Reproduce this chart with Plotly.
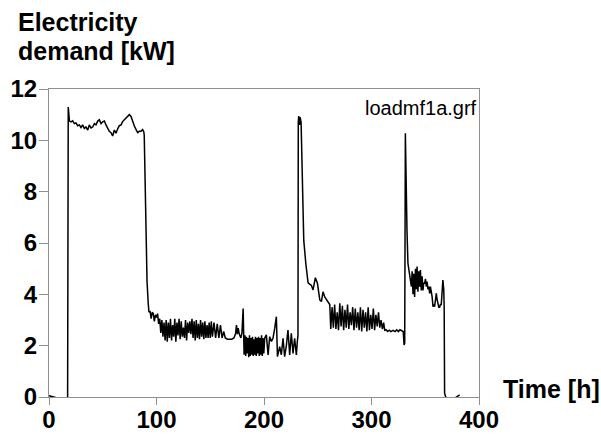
import plotly.graph_objects as go

time_h = [
    0, 3, 6, 9, 12, 15, 16.5, 17.3, 17.9,
    19.0, 20.5, 22.0, 23.6, 25.1, 26.7, 28.2, 29.8, 31.3, 32.9, 34.4, 36.0, 37.5, 39.1, 40.6,
    42.2, 43.7, 45.3, 46.8, 48.4, 49.9, 51.5, 53.0, 54.6, 56.1, 57.7, 59.2, 60.8, 62.3, 63.9,
    65.4, 67.0, 68.5, 70.1, 71.6, 73.2, 74.7, 76.3, 77.8, 79.4, 80.9, 82.5, 84.0, 85.6, 87.1,
    88.2, 88.6, 90.1, 91.2, 92.3,
    93.0, 94.0, 95.0, 96.0, 97.0, 98.0, 99.0, 100.0, 101.0, 102.0, 103.0, 104.0, 105.0, 106.0,
    107.0, 108.0, 109.0, 110.0, 111.0, 112.0, 113.0, 114.0, 115.0, 116.0, 117.0, 118.0, 119.0,
    120.0, 121.0, 122.0, 123.0, 124.0, 125.0, 126.0, 127.0, 128.0, 129.0, 130.0, 131.0, 132.0,
    133.0, 134.0, 135.0, 136.0, 137.0, 138.0, 139.0, 140.0, 141.0, 142.0, 143.0, 144.0, 145.0,
    146.0, 147.0, 148.0, 149.0, 150.0, 151.0, 152.0, 153.5, 155.0, 156.5, 158.0, 159.5, 161.0,
    162.5, 164.0, 166.0, 168.0, 170.0, 172.0, 173.5, 174.4, 175.2, 176.0, 177.0, 178.5, 179.5,
    180.6, 181.5, 182.3, 183.0, 183.7, 184.4, 185.1, 185.8, 186.5, 187.2, 187.9, 188.6, 189.3,
    190.0, 190.7, 191.4, 192.1, 192.8, 193.5, 194.2, 194.9, 195.6, 196.3, 197.0, 197.7, 198.4,
    199.1, 199.8, 200.7, 202.2, 203.8, 205.3, 206.9, 208.4, 210.0, 211.5, 212.5, 214.6, 216.1,
    217.7, 219.2, 220.8, 222.3, 223.9, 225.4, 227.0, 228.5, 230.1, 231.0, 231.6,
    231.9, 232.3, 233.0, 233.6, 234.5, 235.7, 237.0, 238.9, 239.5, 241.0, 242.5, 244.1, 245.6,
    247.8, 249.7, 251.9, 253.4, 254.9, 256.5, 258.0, 259.6, 261.2,
    262.1, 263.3, 264.5, 265.7, 266.9, 268.1, 269.3, 270.5, 271.7, 272.9, 274.1, 275.3, 276.5,
    277.7, 278.9, 280.1, 281.3, 282.5, 283.7, 284.9, 286.1, 287.3, 288.5, 289.7, 290.9, 292.1,
    293.3, 294.5, 295.7, 296.9, 298.1, 299.3, 300.5, 301.7, 302.9, 304.1, 305.3, 306.5, 307.7,
    308.9, 310.1, 311.3, 312.3, 313.5, 315.0, 316.5, 318.0, 320.0, 322.0, 323.5, 325.0, 326.5,
    328.0, 329.5, 330.3, 330.9, 331.5, 332.0, 333.0, 333.9, 335.5, 337.1,
    337.8, 338.6, 339.3, 340.1, 340.9, 341.7, 342.4, 343.2, 344.0, 344.8, 345.5, 346.3, 347.1,
    347.9, 348.6, 349.4, 350.2, 351.0, 351.7, 352.5, 353.3, 354.1, 354.8, 355.6, 356.4, 357.2,
    358.0, 358.7, 359.5, 360.3, 361.0, 361.8, 362.6, 363.4, 364.1, 364.9, 365.7, 366.4, 367.2,
    367.6, 368.0, 369.0, 370.5, 372.7, 375.0, 377.3, 379.5, 382.0,
]

demand_kw = [
    0.05, 0.03, -0.02, -0.06, -0.07, -0.04, -0.1, -0.3, 11.3,
    10.75, 10.72, 10.76, 10.65, 10.68, 10.57, 10.6, 10.5, 10.6, 10.46, 10.52, 10.4, 10.6, 10.48, 10.52,
    10.65, 10.6, 10.75, 10.8, 10.65, 10.72, 10.75, 10.6, 10.46, 10.35, 10.3, 10.17, 10.4, 10.28, 10.45,
    10.57, 10.6, 10.73, 10.8, 10.86, 10.96, 11.0, 10.93, 10.73, 10.56, 10.43, 10.3, 10.35, 10.35, 10.42,
    10.33, 10.2, 6.8, 4.5, 3.65,
    3.3, 3.35, 3.05, 3.3, 3.25, 2.95, 3.2, 3.1, 3.25, 2.85, 3.05, 2.5, 3.0, 2.35,
    2.9, 2.2, 3.0, 2.15, 2.9, 2.3, 3.05, 2.2, 2.8, 2.35, 3.05, 2.15, 2.9,
    2.4, 3.05, 2.25, 2.95, 2.35, 2.7, 2.3, 3.0, 2.2, 2.9, 2.5, 2.95, 2.45,
    3.05, 2.3, 2.95, 2.2, 3.0, 2.3, 2.85, 2.25, 3.0, 2.35, 2.9, 2.25, 2.95,
    2.3, 2.8, 2.3, 2.9, 2.3, 2.95, 2.35, 2.9, 2.3, 2.85, 2.3, 2.8, 2.3,
    2.55, 2.3, 2.25, 2.25, 2.25, 2.3, 2.45, 2.8, 2.45, 2.68, 2.45, 2.3, 2.5,
    3.45, 1.65, 2.4, 1.6, 2.35, 1.7, 2.3, 1.55, 2.4, 1.6, 2.3, 1.65, 2.35,
    1.6, 2.25, 1.65, 2.35, 1.6, 2.3, 1.7, 2.35, 1.6, 2.3, 1.65, 2.4, 1.6,
    2.3, 1.7, 2.3, 2.42, 1.64, 2.35, 2.16, 2.3, 2.68, 3.13, 1.57, 1.96, 1.64,
    2.29, 1.57, 2.0, 2.61, 1.64, 2.48, 1.7, 2.29, 1.64, 2.16, 2.4,
    10.7, 10.95, 10.6, 10.9, 10.7, 8.1, 6.1, 5.2, 5.0, 4.45, 4.4, 4.35, 4.17,
    4.65, 4.43, 3.78, 3.72, 4.1, 3.9, 3.78, 3.7, 3.6,
    2.65, 3.5, 2.7, 3.6, 2.65, 3.3, 2.6, 3.65, 2.75, 3.55, 2.6, 3.4, 2.7,
    3.6, 2.65, 3.3, 2.8, 3.5, 2.6, 3.45, 2.7, 3.3, 2.6, 3.5, 2.55, 3.4,
    2.7, 3.3, 2.55, 3.5, 2.6, 3.2, 2.65, 3.45, 2.6, 3.2, 2.75, 3.3, 2.7,
    3.0, 2.65, 2.9, 2.6, 2.62, 2.55, 2.6, 2.55, 2.6, 2.55, 2.62, 2.55, 2.62,
    2.58, 2.55, 2.03, 2.1, 10.28, 8.5, 6.5, 5.21, 4.75, 4.3,
    4.9, 4.0, 4.8, 3.9, 5.0, 4.2, 5.08, 4.1, 4.9, 4.3, 4.95, 4.15, 4.7,
    4.15, 4.45, 4.42, 4.6, 4.3, 4.5, 4.2, 4.3, 4.04, 4.3, 4.1, 3.9, 3.52,
    3.6, 3.52, 3.8, 4.04, 3.8, 3.6, 3.5, 3.5, 3.6, 3.6, 4.2, 4.56, 4.2,
    3.5, 0.15, 0.0, -0.04, -0.06, -0.06, -0.05, 0.0, 0.08,
]

x_ticks = [0, 100, 200, 300, 400]
y_ticks = [0, 2, 4, 6, 8, 10, 12]

FONT = "Liberation Sans, Arial, sans-serif"
AXIS_GREY = "#8f8f8f"

# plot area in pixels: left 49, right 479, top 89, bottom 397
PL, PR, PT, PB = 49, 479, 89, 397


def px_x(px):
    return (px - PL) / (PR - PL)


def px_y(py):
    return (PB - py) / (PB - PT)


fig = go.Figure(
    go.Scatter(
        x=time_h,
        y=demand_kw,
        mode="lines",
        line=dict(color="black", width=1.5),
        hoverinfo="skip",
    )
)

bold = dict(family=FONT, size=24, color="black", weight="bold")

fig.update_layout(
    width=601,
    height=434,
    margin=dict(l=PL, r=601 - PR, t=PT, b=434 - PB, pad=0),
    paper_bgcolor="white",
    plot_bgcolor="white",
    showlegend=False,
    font=dict(family=FONT, color="black"),
    xaxis=dict(
        range=[0, 400],
        tickvals=x_ticks,
        ticktext=[str(v) for v in x_ticks],
        showgrid=False,
        zeroline=False,
        showline=True,
        linecolor=AXIS_GREY,
        linewidth=1,
        mirror=True,
        ticks="outside",
        ticklen=7,
        tickcolor=AXIS_GREY,
        tickfont=bold,
        ticklabelstandoff=-6,
        automargin=False,
    ),
    yaxis=dict(
        range=[0, 12],
        tickvals=y_ticks,
        ticktext=[str(v) for v in y_ticks],
        showgrid=False,
        zeroline=False,
        showline=True,
        linecolor=AXIS_GREY,
        linewidth=1,
        mirror=True,
        ticks="outside",
        ticklen=9,
        tickcolor=AXIS_GREY,
        tickfont=bold,
        ticklabelstandoff=-3,
        automargin=False,
    ),
    annotations=[
        dict(
            text="Electricity",
            xref="paper", yref="paper",
            x=px_x(16), y=px_y(22),
            xanchor="left", yanchor="middle",
            showarrow=False,
            font=dict(family=FONT, size=25, color="black", weight="bold"),
        ),
        dict(
            text="demand [kW]",
            xref="paper", yref="paper",
            x=px_x(16), y=px_y(51),
            xanchor="left", yanchor="middle",
            showarrow=False,
            font=dict(family=FONT, size=25, color="black", weight="bold"),
        ),
        dict(
            text="Time [h]",
            xref="paper", yref="paper",
            x=px_x(602), y=px_y(389),
            xanchor="right", yanchor="middle",
            showarrow=False,
            font=dict(family=FONT, size=25, color="black", weight="bold"),
        ),
        dict(
            text="loadmf1a.grf",
            xref="paper", yref="paper",
            x=px_x(479), y=px_y(108),
            xanchor="right", yanchor="middle",
            showarrow=False,
            font=dict(family=FONT, size=20, color="black"),
        ),
    ],
)

fig.write_html(
    "out.html",
    config={"displayModeBar": False, "staticPlot": True},
    post_script="document.body.style.margin='0px';document.body.style.overflow='hidden';",
)
